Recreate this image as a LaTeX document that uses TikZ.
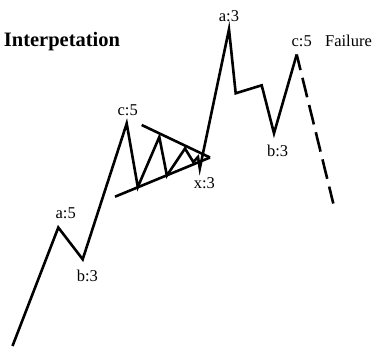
\documentclass[tikz,border=0pt]{standalone}
\usepackage{fontspec}
\setmainfont{Liberation Serif}
\begin{document}
\begin{tikzpicture}[x=1pt,y=-1pt,
  wave/.style={line width=2.6pt,line join=miter,line cap=butt},
  trend/.style={line width=2.6pt},
  lbl/.style={font=\fontsize{16.5}{16.5}\selectfont,inner sep=0pt},
  ttl/.style={font=\fontsize{20.5}{20.5}\selectfont\bfseries,inner sep=0pt}]
\useasboundingbox (0,0) rectangle (376,348);
% wave points
\coordinate (p0) at (12.5,346);
\coordinate (p1) at (58.3,227.5);
\coordinate (p2) at (82.7,259.3);
\coordinate (p3) at (126.7,123.5);
\coordinate (p4) at (137.8,187);
\coordinate (p5) at (159.3,137);
\coordinate (p6) at (166.9,175.5);
\coordinate (p7) at (185,148.5);
\coordinate (p8) at (193.3,162);
\coordinate (p9) at (198,157);
\coordinate (p10) at (199.8,168.5);
\coordinate (p11) at (229,29.3);
\coordinate (p12) at (235.7,93.3);
\coordinate (p13) at (261.7,85.3);
\coordinate (p14) at (274,133.3);
\coordinate (p15) at (296.7,54.5);
\coordinate (p16) at (333.3,203.5);
% triangle lines
\coordinate (u0) at (141.7,125);
\coordinate (l0) at (115,196.7);
\coordinate (apex) at (210,157.5);
\draw[wave] (p0) -- (p1) -- (p2) -- (p3) -- (p4) -- (p5) -- (p6) -- (p7) -- (p8) -- (p9) -- (p10) -- (p11) -- (p12) -- (p13) -- (p14) -- (p15);
\draw[wave,dash pattern=on 20pt off 8pt,dash phase=4pt] (p15) -- (p16);
\draw[trend] (u0) -- (apex);
\draw[trend] (l0) -- (apex);
% labels
\node[ttl] (title) at (62,42) {Interpetation};
\node[lbl] (la5) at (65.7,213.5) {a:5};
\node[lbl] (lb3) at (87.3,276) {b:3};
\node[lbl] (lc5) at (127.7,110) {c:5};
\node[lbl] (lx3) at (204.3,182.7) {x:3};
\node[lbl] (la3) at (229,16) {a:3};
\node[lbl] (lb3b) at (277.7,150.7) {b:3};
\node[lbl] (lc5b) at (301.7,41) {c:5};
\node[lbl] (fail) at (348.5,41) {Failure};
\end{tikzpicture}
\end{document}
